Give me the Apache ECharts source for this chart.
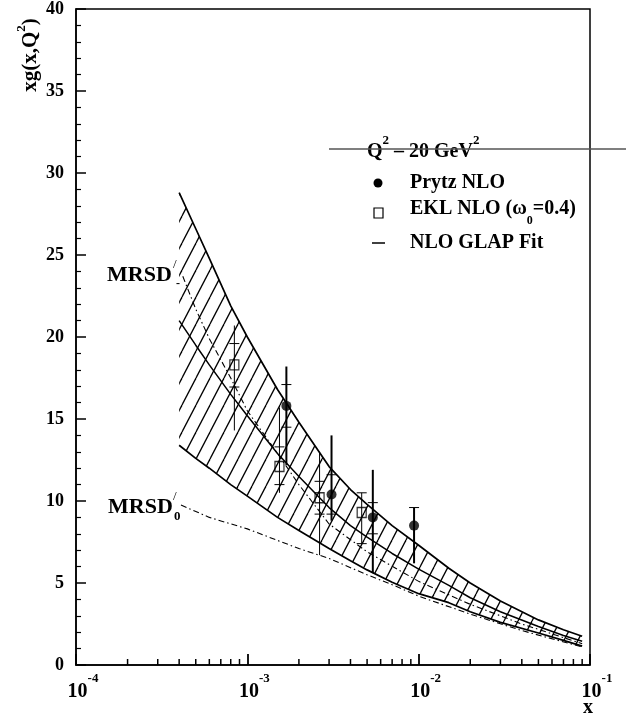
<!DOCTYPE html>
<html>
<head>
<meta charset="utf-8">
<script src="https://cdn.jsdelivr.net/npm/echarts@6/dist/echarts.min.js"></script>
<style>
  html, body { margin: 0; padding: 0; background: #fff; }
  #chart { width: 626px; height: 717px; }
</style>
</head>
<body>
<div id="chart"></div>
<script>
// Gluon density band at Q^2 = 20 GeV^2 (upper / lower edge and central fit)
const bandX      = [4e-4, 5e-4, 6e-4, 8e-4, 1e-3, 1.5e-3, 2e-3, 3e-3, 4e-3, 5e-3, 7e-3, 1e-2, 1.5e-2, 2e-2, 3e-2, 5e-2, 7e-2, 9e-2];
const bandUpper  = [28.8, 26.6, 24.8, 21.9, 20.0, 16.8, 14.8, 12.1, 10.7, 9.8, 8.5, 7.3, 5.9, 5.0, 3.9, 2.75, 2.15, 1.75];
const bandLower  = [13.4, 12.6, 12.0, 11.0, 10.3, 9.0, 8.2, 7.1, 6.35, 5.8, 5.05, 4.35, 3.8, 3.25, 2.6, 1.95, 1.5, 1.15];
const bandCentre = [21.0, 19.5, 18.3, 16.5, 15.2, 12.9, 11.5, 9.6, 8.5, 7.8, 6.8, 5.85, 4.85, 4.1, 3.25, 2.35, 1.8, 1.45];

// MRSD'- and MRSD'0 parametrisations
const mrsdMinusX = [4.2e-4, 5e-4, 6e-4, 8e-4, 1e-3, 1.5e-3, 2e-3, 3e-3, 5e-3, 1e-2, 2e-2, 4e-2, 9e-2];
const mrsdMinusY = [23.7, 21.7, 19.9, 17.5, 15.5, 12.9, 11.0, 8.6, 6.9, 5.1, 3.7, 2.5, 1.3];
const mrsdZeroX  = [4.1e-4, 6e-4, 1e-3, 2e-3, 3e-3, 5e-3, 7e-3, 1e-2, 2e-2, 4e-2, 9e-2];
const mrsdZeroY  = [9.75, 9.0, 8.3, 7.1, 6.5, 5.5, 4.9, 4.2, 3.1, 2.1, 1.1];

// Prytz NLO points with error bars and inner marks
const prytzX       = [1.69e-3, 3.1e-3, 5.4e-3, 9.4e-3];
const prytzY       = [15.8, 10.4, 9.0, 8.5];
const prytzLow     = [12.2, 8.8, 5.6, 6.2];
const prytzHigh    = [18.2, 14.0, 11.9, 9.6];
const prytzCapLow  = [14.5, 9.2, 8.0, null];
const prytzCapHigh = [17.1, 11.6, 9.9, 9.6];

// EKL NLO (omega0 = 0.4) points
const eklX       = [8.4e-4, 1.54e-3, 2.64e-3, 4.65e-3];
const eklY       = [18.3, 12.1, 10.2, 9.3];
const eklLow     = [14.3, 10.5, 6.7, 7.4];
const eklHigh    = [20.7, 15.7, 13.0, 10.5];
const eklCapLow  = [16.95, 11.0, 9.2, 7.4];
const eklCapHigh = [19.6, 13.3, 11.2, 10.5];

// decades of the logarithmic x axis; minor marks sit at 2..9 within each
const xDecades = [1e-4, 1e-3, 1e-2];
const minorSteps = [2, 3, 4, 5, 6, 7, 8, 9];

const SERIF = '"Liberation Serif", "DejaVu Serif", serif';

// diagonal hatching tile for the band
function hatchTile() {
  const w = 14, h = 27;
  const c = document.createElement('canvas');
  c.width = w; c.height = h;
  const g = c.getContext('2d');
  g.strokeStyle = '#000';
  g.lineWidth = 1.3;
  for (const dx of [-w, 0, w]) {
    g.beginPath();
    g.moveTo(dx, h);
    g.lineTo(dx + w, 0);
    g.stroke();
  }
  return c;
}
const hatch = { image: hatchTile(), repeat: 'repeat' };

function pairs(xs, ys) { return xs.map((x, i) => [x, ys[i]]); }

function errorBars(xs, lows, highs, capLows, capHighs, width) {
  return {
    type: 'custom',
    z: 4,
    data: xs.map((x, i) => [x, lows[i], highs[i],
      capLows[i] == null ? '-' : capLows[i],
      capHighs[i] == null ? '-' : capHighs[i]]),
    encode: { x: 0, y: [1, 2] },
    renderItem(params, api) {
      const x = api.value(0);
      const lo = api.coord([x, api.value(1)]);
      const hi = api.coord([x, api.value(2)]);
      const children = [{
        type: 'line',
        shape: { x1: lo[0], y1: lo[1], x2: hi[0], y2: hi[1] },
        style: { stroke: '#000', lineWidth: width }
      }];
      for (const d of [3, 4]) {
        const v = api.value(d);
        if (v == null || isNaN(v)) continue;
        const p = api.coord([x, v]);
        children.push({
          type: 'line',
          shape: { x1: p[0] - 5, y1: p[1], x2: p[0] + 5, y2: p[1] },
          style: { stroke: '#000', lineWidth: 1 }
        });
      }
      return { type: 'group', children };
    }
  };
}

const minorTickValues = [];
xDecades.forEach(d => minorSteps.forEach(m => minorTickValues.push(m * d)));

const chart = echarts.init(document.getElementById('chart'), null, { renderer: 'canvas' });

const bold = (size) => ({ fontFamily: SERIF, fontWeight: 'bold', fontSize: size, color: '#000' });

chart.setOption({
  animation: false,
  backgroundColor: '#fff',
  grid: {
    left: 76, right: 36, top: 8, bottom: 52,
    show: true, borderColor: '#000', borderWidth: 1.5, backgroundColor: 'transparent'
  },
  xAxis: {
    type: 'log', logBase: 10, min: 1e-4, max: 1e-1,
    axisLine: { lineStyle: { color: '#000', width: 1.5 } },
    axisTick: { inside: true, length: 11, lineStyle: { color: '#000', width: 1.8 } },
    minorTick: { show: false },
    splitLine: { show: false },
    minorSplitLine: { show: false },
    axisLabel: {
      margin: 7,
      padding: [0, 0, 0, 14],
      formatter: (v) => '{b|10}{s|' + Math.round(Math.log10(v)) + '}',
      rich: {
        b: Object.assign(bold(20), { lineHeight: 30, verticalAlign: 'bottom' }),
        s: Object.assign(bold(13), { lineHeight: 30, verticalAlign: 'top' })
      }
    }
  },
  yAxis: {
    type: 'value', min: 0, max: 40, interval: 5,
    axisLine: { show: true, lineStyle: { color: '#000', width: 1.5 } },
    axisTick: { inside: true, length: 10, lineStyle: { color: '#000', width: 1.5 } },
    minorTick: { show: true, splitNumber: 5, length: 5, lineStyle: { color: '#000', width: 1.2 } },
    splitLine: { show: false },
    axisLabel: Object.assign(bold(18), { margin: 12 })
  },
  graphic: [
    { type: 'text', x: 28, y: 55, rotation: Math.PI / 2,
      style: { text: '{t|xg(x,Q}{s|2}{t|)}', align: 'center', verticalAlign: 'middle',
        rich: { t: Object.assign(bold(21), { lineHeight: 26, verticalAlign: 'bottom' }),
                s: Object.assign(bold(13), { lineHeight: 26, verticalAlign: 'top' }) } } },
    { type: 'text', x: 588, y: 708,
      style: Object.assign(bold(20), { text: 'x', align: 'center', verticalAlign: 'middle' }) },
    { type: 'text', x: 367, y: 148,
      style: { text: '{t|Q}{s|2}{t| – 20 GeV}{s|2}', align: 'left', verticalAlign: 'middle',
        rich: { t: Object.assign(bold(20), { lineHeight: 28, verticalAlign: 'bottom' }),
                s: Object.assign(bold(13), { lineHeight: 28, verticalAlign: 'top' }) } } },
    { type: 'line', shape: { x1: 329, y1: 149, x2: 626, y2: 149 },
      style: { stroke: '#555', lineWidth: 1.5 }, z: 10 },
    { type: 'circle', shape: { cx: 378, cy: 183, r: 4.5 }, style: { fill: '#000' } },
    { type: 'text', x: 410, y: 183,
      style: Object.assign(bold(20), { text: 'Prytz NLO', verticalAlign: 'middle' }) },
    { type: 'rect', shape: { x: 374, y: 208, width: 9, height: 10 },
      style: { fill: 'none', stroke: '#000', lineWidth: 1.2 } },
    { type: 'text', x: 410, y: 213,
      style: { text: '{t|EKL NLO (ω}{u|0}{t|=0.4)}', verticalAlign: 'middle',
        rich: { t: Object.assign(bold(20), { lineHeight: 28, verticalAlign: 'top' }),
                u: Object.assign(bold(12), { lineHeight: 28, verticalAlign: 'bottom' }) } } },
    { type: 'line', shape: { x1: 372, y1: 243, x2: 385, y2: 243 },
      style: { stroke: '#000', lineWidth: 1.5 } },
    { type: 'text', x: 410, y: 243,
      style: Object.assign(bold(20), { text: 'NLO GLAP Fit', verticalAlign: 'middle' }) },
    { type: 'text', x: 107, y: 275,
      style: Object.assign(bold(22), { text: 'MRSD', verticalAlign: 'middle' }) },
    { type: 'text', x: 173, y: 265,
      style: { text: '/', fontFamily: SERIF, fontSize: 13, fill: '#000', verticalAlign: 'middle' } },
    { type: 'text', x: 176, y: 284,
      style: Object.assign(bold(12), { text: '-', verticalAlign: 'middle' }) },
    { type: 'text', x: 108, y: 507,
      style: Object.assign(bold(22), { text: 'MRSD', verticalAlign: 'middle' }) },
    { type: 'text', x: 173, y: 497,
      style: { text: '/', fontFamily: SERIF, fontSize: 13, fill: '#000', verticalAlign: 'middle' } },
    { type: 'text', x: 174, y: 517,
      style: Object.assign(bold(13), { text: '0', verticalAlign: 'middle' }) }
  ],
  series: [
    {
      // hatched area between the band edges
      type: 'custom',
      z: 1,
      data: bandX.map((x, i) => [x, bandLower[i], bandUpper[i]]),
      encode: { x: 0, y: [1, 2] },
      renderItem(params, api) {
        if (params.dataIndex !== 0) return null;
        const top = bandX.map((x, i) => api.coord([x, bandUpper[i]]));
        const bottom = bandX.map((x, i) => api.coord([x, bandLower[i]])).reverse();
        return { type: 'polygon', shape: { points: top.concat(bottom) },
          style: { fill: hatch, stroke: null } };
      }
    },
    {
      // minor log ticks along the bottom axis
      type: 'custom',
      z: 6,
      silent: true,
      clip: false,
      data: minorTickValues.map(v => [v, 0]),
      encode: { x: 0, y: 1 },
      renderItem(params, api) {
        const p = api.coord([api.value(0), 0]);
        return { type: 'line', shape: { x1: p[0], y1: p[1], x2: p[0], y2: p[1] - 6 },
          style: { stroke: '#000', lineWidth: 1.5 } };
      }
    },
    { type: 'line', z: 3, data: pairs(bandX, bandUpper), symbol: 'none',
      lineStyle: { color: '#000', width: 1.7 } },
    { type: 'line', z: 3, data: pairs(bandX, bandLower), symbol: 'none',
      lineStyle: { color: '#000', width: 1.7 } },
    { type: 'line', z: 3, data: pairs(bandX, bandCentre), symbol: 'none',
      lineStyle: { color: '#000', width: 1.5 } },
    { type: 'line', z: 3, data: pairs(mrsdMinusX, mrsdMinusY), symbol: 'none',
      lineStyle: { color: '#000', width: 1.1, type: [6, 3, 1.5, 3] } },
    { type: 'line', z: 3, data: pairs(mrsdZeroX, mrsdZeroY), symbol: 'none',
      lineStyle: { color: '#000', width: 1.1, type: [6, 3, 1.5, 3] } },
    errorBars(prytzX, prytzLow, prytzHigh, prytzCapLow, prytzCapHigh, 2),
    errorBars(eklX, eklLow, eklHigh, eklCapLow, eklCapHigh, 1),
    { type: 'scatter', z: 5, data: pairs(prytzX, prytzY), symbol: 'circle', symbolSize: 10,
      itemStyle: { color: '#000' } },
    { type: 'scatter', z: 5, data: pairs(eklX, eklY), symbol: 'rect', symbolSize: [9, 10],
      itemStyle: { color: 'rgba(0,0,0,0)', borderColor: '#000', borderWidth: 1.3 } }
  ]
});
</script>
</body>
</html>
